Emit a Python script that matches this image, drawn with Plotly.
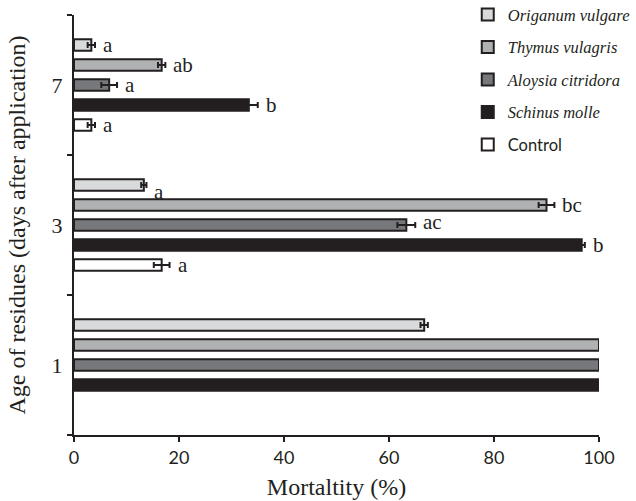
import plotly.graph_objects as go

# Age of residues (days after application), bottom to top
ages = ["1", "3", "7"]

# Mortality (%) and standard errors per treatment, in the order of `ages`
origanum = [66.7, 13.3, 3.3]
origanum_err = [0.7, 0.5, 0.7]
thymus = [100, 90.0, 16.7]
thymus_err = [0, 1.5, 0.7]
aloysia = [100, 63.3, 6.7]
aloysia_err = [0, 1.7, 1.5]
schinus = [100, 96.7, 33.3]
schinus_err = [0, 0.6, 1.7]
control = [None, 16.7, 3.3]
control_err = [0, 1.5, 0.7]

# Significance letters (empty where none is printed)
origanum_lab = ["", "a", "a"]
thymus_lab = ["", "bc", "ab"]
aloysia_lab = ["", "ac", "a"]
schinus_lab = ["", "b", "b"]
control_lab = ["", "a", "a"]

SERIF = "Liberation Serif"
SANS = "Lato"
INK = "#231f20"

# Drawn bottom-to-top within each group
series = [
    ("<span style=\"font-family:Lato;font-style:normal\">Control</span>", control, control_err, control_lab, "#ffffff"),
    ("<i>Schinus molle</i>", schinus, schinus_err, schinus_lab, INK),
    ("<i>Aloysia citridora</i>", aloysia, aloysia_err, aloysia_lab, "#77787b"),
    ("<i>Thymus vulagris</i>", thymus, thymus_err, thymus_lab, "#b0b1b3"),
    ("<i>Origanum vulgare</i>", origanum, origanum_err, origanum_lab, "#d9dadb"),
]

BARGAP = 0.286
slot = (1 - BARGAP) / len(series)

fig = go.Figure()
annotations = []
for k, (name, vals, errs, labs, color) in enumerate(series):
    fig.add_trace(go.Bar(
        y=ages, x=vals, orientation="h", name=name,
        legendgroup=f"g{k}", legendrank=len(series) - k,
        marker=dict(color=color, line=dict(color=INK, width=2)),
        error_x=dict(type="data", array=errs, visible=True,
                     color=INK, thickness=2, width=3),
    ))
    offset = -(1 - BARGAP) / 2 + slot * (k + 0.5)
    for i, lab in enumerate(labs):
        if not lab:
            continue
        yshift = 0
        if k == 4 and i == 1:
            yshift = -7
        if k == 2 and i == 1:
            yshift = 3
        annotations.append(dict(
            x=vals[i] + errs[i], y=i + offset, xref="x", yref="y",
            text=lab, showarrow=False, xanchor="left", yanchor="middle",
            xshift=6, yshift=yshift,
            font=dict(family=SERIF, size=21, color=INK),
        ))

fig.update_layout(
    width=636, height=501, autosize=False,
    margin=dict(l=74, r=37, t=15, b=66, autoexpand=False),
    paper_bgcolor="white", plot_bgcolor="white",
    barmode="group", bargap=BARGAP, bargroupgap=0.42,
    showlegend=True,
    legend=dict(
        traceorder="grouped", x=0.75, xanchor="left",
        y=1.042, yanchor="top",
        font=dict(family=SERIF, size=16.5, color=INK),
        tracegroupgap=8, bgcolor="rgba(0,0,0,0)",
    ),
    annotations=annotations,
    xaxis=dict(
        range=[0, 100], tickvals=[0, 20, 40, 60, 80, 100],
        showline=True, linecolor=INK, linewidth=2,
        ticks="outside", ticklen=5, tickwidth=2, tickcolor=INK,
        showgrid=False, zeroline=False,
        tickfont=dict(family=SANS, size=18, color=INK),
        title=dict(text="Mortaltity (%)", standoff=12,
                   font=dict(family=SERIF, size=24, color=INK)),
    ),
    yaxis=dict(
        type="category", categoryorder="array", categoryarray=ages,
        range=[-0.5, 2.5],
        showline=True, linecolor=INK, linewidth=2,
        ticks="outside", ticklen=5, tickwidth=2, tickcolor=INK,
        tickson="boundaries", ticklabelstandoff=5,
        showgrid=False, zeroline=False,
        tickfont=dict(family=SERIF, size=22, color=INK),
        title=dict(text="Age of residues (days after application)", standoff=19,
                   font=dict(family=SERIF, size=24, color=INK)),
    ),
)

fig.write_html("out.html")
